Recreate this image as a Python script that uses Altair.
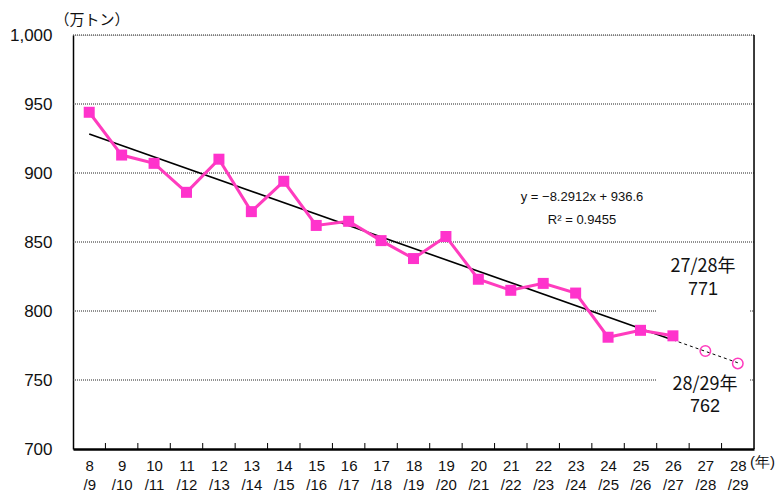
import altair as alt
import pandas as pd

# ---- data ----
years = list(range(8, 29))
actual_years = list(range(8, 27))
actual_values = [944, 913, 907, 886, 910, 872, 894, 862, 865, 851,
                 838, 854, 823, 815, 820, 813, 781, 786, 782]
forecast_years = [27, 28]
forecast_values = [771, 762]
trend_slope = -8.2912
trend_intercept = 936.6
y_ticks = [700, 750, 800, 850, 900, 950, 1000]
full_grid = [850, 900, 950, 1000]
partial_grid = [750, 800]
equation_lines = ["y = \u22128.2912x + 936.6", "R\u00b2 = 0.9455"]
note_1 = ["27/28年", "771"]
note_2 = ["28/29年", "762"]
y_unit = "（万トン）"
x_unit = "(年)"

W, H = 681, 414
PINK_LINE = "#FF3CBE"
PINK_MARK = "#FF33CC"
NUM_FONT = "Liberation Sans"
JP_FONT = "Noto Sans CJK JP"

x_lo, x_hi = years[0] - 0.5, years[-1] + 0.5
xs = alt.Scale(domain=[x_lo, x_hi], nice=False, zero=False)
ys = alt.Scale(domain=[700, 1000], nice=False, zero=False)

X_AXIS = alt.Axis(
    values=years, ticks=False, grid=False, title=None,
    labelExpr="[datum.value, '/' + (datum.value + 1)]",
    labelFont=NUM_FONT, labelFontSize=15, labelColor="#111",
    labelLineHeight=19, labelPadding=9,
    domainColor="#000", domainWidth=2.5,
)
Y_AXIS = alt.Axis(
    values=y_ticks, format=",.0f", ticks=False, grid=False, title=None,
    labelFont=NUM_FONT, labelFontSize=17, labelColor="#111",
    labelPadding=21, domainColor="#000", domainWidth=1.5,
)


def X(field):
    return alt.X(field, scale=xs, axis=X_AXIS, title=None)


def Y(field):
    return alt.Y(field, scale=ys, axis=Y_AXIS, title=None)


df_actual = pd.DataFrame({"year": actual_years, "value": actual_values})
df_fc = pd.DataFrame({"year": forecast_years, "value": forecast_values})

first_idx = 1
last_idx = len(actual_years)
end_idx = len(years)
df_trend = pd.DataFrame({
    "year": [actual_years[0], actual_years[-1]],
    "value": [trend_slope * first_idx + trend_intercept,
              trend_slope * last_idx + trend_intercept],
})
df_trend_ext = pd.DataFrame({
    "year": [actual_years[-1], years[-1]],
    "value": [trend_slope * last_idx + trend_intercept,
              trend_slope * end_idx + trend_intercept],
})

grid_rows = [{"year": x_lo, "x2": x_hi, "value": v} for v in full_grid]
grid_rows += [{"year": x_lo, "x2": actual_years[-1] - 0.5, "value": v} for v in partial_grid]
grid_rows += [{"year": x_hi - 0.12, "x2": x_hi, "value": v} for v in partial_grid]
df_grid = pd.DataFrame(grid_rows)

df_ticks = pd.DataFrame({"year": [y + 0.5 for y in years[:-1]]})

grid = alt.Chart(df_grid).mark_rule(color="#222", strokeWidth=1, strokeDash=[1, 1]).encode(
    x=X("year:Q"), x2="x2:Q", y=Y("value:Q"),
)

ticks = alt.Chart(df_ticks).mark_rule(color="#000", strokeWidth=1).encode(
    x=X("year:Q"), y=alt.value(H), y2=alt.value(H - 6),
)

right_border = alt.Chart(pd.DataFrame({"year": [x_hi]})).mark_rule(color="#000", strokeWidth=1.5).encode(
    x=X("year:Q"), y=alt.value(0), y2=alt.value(H),
)

trend = alt.Chart(df_trend).mark_line(color="#000", strokeWidth=1.6).encode(
    x=X("year:Q"), y=Y("value:Q"))
trend_ext = alt.Chart(df_trend_ext).mark_line(color="#000", strokeWidth=1, strokeDash=[3, 3]).encode(
    x=X("year:Q"), y=Y("value:Q"))

line = alt.Chart(df_actual).mark_line(color=PINK_LINE, strokeWidth=3).encode(
    x=X("year:Q"), y=Y("value:Q"))
squares = alt.Chart(df_actual).mark_square(color=PINK_MARK, size=121, opacity=1).encode(
    x=X("year:Q"), y=Y("value:Q"))
circles = alt.Chart(df_fc).mark_point(shape="circle", filled=False, color=PINK_LINE,
                                      strokeWidth=1.5, size=110, opacity=1).encode(
    x=X("year:Q"), y=Y("value:Q"))


def label(text, px, py, size, font, align="center", weight="normal"):
    return alt.Chart(pd.DataFrame({"t": [text]})).mark_text(
        font=font, fontSize=size, color="#111", align=align, baseline="middle",
        fontWeight=weight,
    ).encode(text="t:N", x=alt.value(px), y=alt.value(py))


texts = [
    label(equation_lines[0], 509, 162, 13, NUM_FONT),
    label(equation_lines[1], 509, 185, 13, NUM_FONT),
    label(note_1[0], 630, 232, 18, JP_FONT),
    label(note_1[1], 630, 255, 18, NUM_FONT),
    label(note_2[0], 632, 350, 18, JP_FONT),
    label(note_2[1], 632, 372, 18, NUM_FONT),
    label(y_unit, 19, -15, 15, JP_FONT),
    label(x_unit, 702, 427, 15, NUM_FONT, align="right"),
]

chart = alt.layer(
    grid, ticks, right_border, trend, trend_ext, line, squares, circles, *texts
).properties(
    width=W, height=H,
    autosize=alt.AutoSizeParams(type="none"),
    padding={"left": 65, "top": 27, "right": 22, "bottom": 42},
).configure_view(strokeWidth=0).configure(background="white")

chart.save("out.html", embed_options={"renderer": "svg", "actions": False})
